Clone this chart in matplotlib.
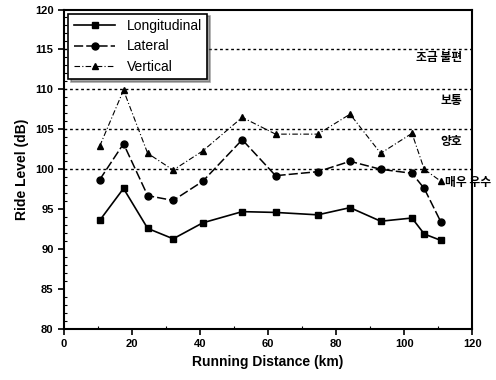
import matplotlib
matplotlib.use("Agg")
import matplotlib.pyplot as plt
from matplotlib.ticker import MultipleLocator

plt.rcParams['font.family'] = ['Liberation Sans', 'DejaVu Sans']

# running distance (km)
distance = [10.5, 17.5, 24.6, 32.1, 40.8, 52.4, 62.2, 74.6, 84.1, 93.1, 102.3, 105.9, 110.8]

longitudinal = [93.6, 97.6, 92.6, 91.3, 93.3, 94.7, 94.6, 94.3, 95.2, 93.5, 93.9, 91.9, 91.1]
lateral = [98.7, 103.2, 96.7, 96.1, 98.5, 103.7, 99.2, 99.7, 101.0, 100.0, 99.5, 97.6, 93.4]
vertical = [102.9, 109.9, 102.0, 99.9, 102.3, 106.5, 104.4, 104.4, 106.9, 102.0, 104.5, 100.0, 98.5]

# comfort grade thresholds and labels
grade_levels = [115, 110, 105, 100]
grade_labels = ["조금 불편", "보통", "양호", "매우 우수"]
grade_label_y = [114.0, 108.6, 103.5, 98.4]

fig = plt.figure(figsize=(4.96, 3.8), dpi=100)
ax = fig.add_axes([0.129, 0.134, 0.823, 0.841])

for lvl in grade_levels:
    ax.axhline(lvl, color='black', linestyle=(0, (2, 2)), linewidth=1.0, zorder=1)

ax.plot(distance, longitudinal, color='black', linestyle='-', linewidth=1.2,
        marker='s', markersize=5, label='Longitudinal', zorder=3)
ax.plot(distance, lateral, color='black', linestyle=(0, (6, 2)), linewidth=1.1,
        marker='o', markersize=5, label='Lateral', zorder=3)
ax.plot(distance, vertical, color='black', linestyle=(0, (5, 2, 1, 2)), linewidth=0.8,
        marker='^', markersize=5, markerfacecolor='black', label='Vertical', zorder=3)

kr = ['Noto Sans CJK KR', 'DejaVu Sans']
for txt, yv in zip(grade_labels[:3], grade_label_y[:3]):
    ax.text(117, yv, txt, ha='right', va='center', fontsize=8.5, fontweight='bold',
            family=kr)
ax.text(112, grade_label_y[3], grade_labels[3], ha='left', va='center', fontsize=8.5,
        fontweight='bold', family=kr, clip_on=False)

ax.set_xlim(0, 120)
ax.set_ylim(80, 120)
ax.xaxis.set_major_locator(MultipleLocator(20))
ax.xaxis.set_minor_locator(MultipleLocator(10))
ax.yaxis.set_major_locator(MultipleLocator(5))
ax.yaxis.set_minor_locator(MultipleLocator(1))
ax.tick_params(which='major', direction='out', length=4, width=1.2,
               labelsize=8)
ax.tick_params(which='minor', direction='in', length=2, width=0.8)
for lab in ax.get_xticklabels() + ax.get_yticklabels():
    lab.set_fontweight('bold')
for sp in ax.spines.values():
    sp.set_linewidth(1.5)

ax.set_xlabel("Running Distance (km)", fontsize=10, fontweight='bold')
ax.set_ylabel("Ride Level (dB)", fontsize=10, fontweight='bold')

leg = ax.legend(loc='upper left', fontsize=10, frameon=True, fancybox=False,
                shadow=True, borderaxespad=0.3, handlelength=3.0,
                labelspacing=0.45, borderpad=0.4)
leg.get_frame().set_edgecolor('black')
leg.get_frame().set_linewidth(1.2)

fig.savefig("out.png", dpi=100)
